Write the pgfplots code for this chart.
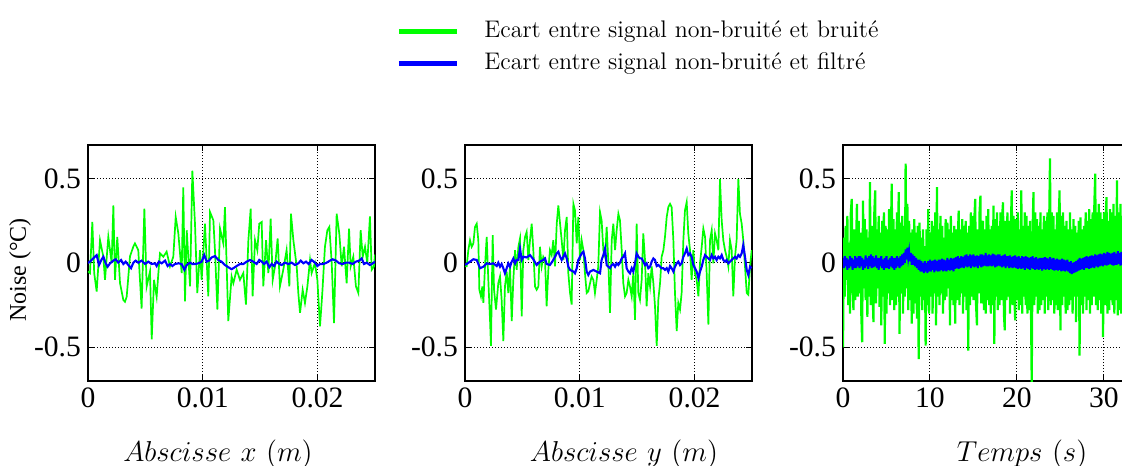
\documentclass[border=0pt]{standalone}
\usepackage{fontspec}
\usepackage{pgfplots}
\pgfplotsset{compat=1.18}
\newfontfamily\tnr{Liberation Serif}
\definecolor{mygreen}{RGB}{0,255,0}
\definecolor{myblue}{RGB}{0,0,255}
\pgfplotsset{
 panel/.style={
  scale only axis, width=143.5pt, height=118pt,
  anchor=south west,
  ymin=-0.7, ymax=0.7,
  ytick={-0.5,0,0.5}, yticklabels={-0.5,0,0.5},
  scaled x ticks=false, scaled y ticks=false,
  grid=major, grid style={black, line width=0.5pt, dash pattern=on 0.6pt off 0.9pt},
  axis line style={line width=1pt, black},
  tick align=inside, major tick length=3pt, tick style={black, line width=0.5pt},
  tick label style={font=\fontsize{14.8}{17}\tnr},
  xlabel style={font=\fontsize{14.5}{17}\selectfont, anchor=base},
 },
 gline/.style={color=mygreen, line width=0.85pt},
 bline/.style={color=myblue, line width=1.05pt},
}
\begin{document}
\begin{tikzpicture}
\useasboundingbox (0,0) rectangle (561pt,232.5pt);
% ---------------- Panel 1
\begin{axis}[panel, at={(44pt,42pt)},
  xmin=0, xmax=0.025, xtick={0,0.01,0.02}, xticklabels={0,0.01,0.02},
  xlabel={$Abscisse\ x\ (m)$},
  xlabel style={at={(axis description cs:0.453,-0.339)}},
  ylabel={Noise (°C)},
  ylabel style={font=\fontsize{12}{14}\tnr, at={(axis description cs:-0.237,0.47)}, anchor=center},
]
\addplot[gline] coordinates {
(0,-0.05)(0.000174,-0.06)(0.000377,0.243)(0.00054,-0.06)(0.000755,-0.169)(0.001045,0.135)
(0.001336,0.037)(0.00148,-0.10)(0.00177,0.155)(0.00206,0.0)(0.00221,0.341)(0.00235,-0.10)
(0.00255,0.155)(0.00279,-0.12)(0.00308,-0.22)(0.00322,-0.23)(0.00337,-0.2)(0.00366,0.04)
(0.00395,0.097)(0.00409,0.116)(0.00438,0.076)(0.00467,-0.27)(0.00491,0.322)(0.00511,-0.139)
(0.0054,-0.05)(0.00555,-0.453)(0.00575,-0.1)(0.00598,-0.2)(0.00613,-0.06)(0.00627,0.057)
(0.00656,0.037)(0.00685,0.067)(0.00714,-0.02)(0.00743,0.037)(0.00764,0.273)(0.00787,0.175)
(0.00816,-0.06)(0.0083,0.449)(0.00845,-0.227)(0.0086,0.194)(0.00889,-0.139)(0.00909,0.547)
(0.00932,0.233)(0.00952,-0.178)(0.00976,0.076)(0.0099,-0.10)(0.01019,0.233)(0.01048,-0.198)
(0.01063,0.302)(0.01092,0.253)(0.01106,0.076)(0.01127,-0.276)(0.0115,0.204)(0.01179,0.116)
(0.01193,0.331)(0.01222,-0.345)(0.01251,-0.08)(0.01266,-0.12)(0.01295,-0.04)(0.01324,-0.10)
(0.01353,-0.06)(0.01376,-0.247)(0.01397,0.135)(0.01417,0.322)(0.01434,-0.198)(0.01455,0.135)
(0.01475,0.076)(0.01492,0.233)(0.01513,0.243)(0.01527,-0.139)(0.01551,0.135)(0.01571,-0.06)
(0.01591,0.263)(0.01609,-0.10)(0.01629,-0.02)(0.01652,0.145)(0.01672,-0.139)(0.01701,-0.04)
(0.0173,0.076)(0.01754,-0.139)(0.01768,0.292)(0.01789,0.135)(0.01818,-0.02)(0.01832,-0.178)
(0.01847,-0.296)(0.0187,-0.159)(0.0189,-0.237)(0.01911,-0.139)(0.01934,0.018)(0.01948,-0.06)
(0.01977,0.0)(0.01998,-0.10)(0.02021,-0.375)(0.02041,-0.178)(0.02064,0.096)(0.02085,0.194)
(0.02102,0.214)(0.02123,0.0)(0.02143,-0.357)(0.02166,0.292)(0.02189,0.175)(0.0221,-0.02)
(0.0223,0.096)(0.02253,-0.12)(0.02274,0.204)(0.02288,-0.02)(0.02311,0.037)(0.02334,-0.139)
(0.02355,-0.178)(0.02375,0.194)(0.02393,0.037)(0.02413,0.096)(0.02433,0.0)(0.02456,0.276)
(0.02471,-0.04)(0.02491,-0.02)(0.025,0.05)
};
\addplot[bline] coordinates {
(0,0.0)(0.000174,0.008)(0.00046,0.027)(0.000755,0.047)(0.00096,-0.012)(0.00119,0.022)
(0.00134,0.037)(0.00154,-0.002)(0.00171,-0.022)(0.00192,-0.002)(0.00221,0.014)(0.00241,0.022)
(0.00264,0.002)(0.00288,0.018)(0.00308,-0.006)(0.00328,0.008)(0.00351,-0.012)(0.00375,-0.031)
(0.00395,0.002)(0.00415,0.014)(0.00438,0.002)(0.00467,0.014)(0.00497,-0.006)(0.00525,0.008)
(0.00555,-0.006)(0.00584,-0.002)(0.00598,-0.018)(0.00618,0.008)(0.00642,-0.002)(0.00671,0.014)
(0.00694,-0.018)(0.00714,-0.006)(0.00735,-0.018)(0.00758,-0.006)(0.00787,-0.002)(0.00816,-0.006)
(0.0084,-0.041)(0.0086,-0.012)(0.00889,0.002)(0.00909,-0.006)(0.00932,-0.006)(0.00961,-0.002)
(0.0099,0.008)(0.01013,0.047)(0.01034,0.008)(0.01054,0.014)(0.01077,0.033)(0.01106,0.041)
(0.01135,0.018)(0.01164,0.008)(0.01193,-0.012)(0.01222,-0.025)(0.01251,-0.037)(0.0128,-0.025)
(0.01295,-0.018)(0.01324,-0.006)(0.01353,-0.006)(0.01382,0.008)(0.01411,0.018)(0.0144,0.008)
(0.01469,-0.006)(0.01492,0.018)(0.01513,0.008)(0.01533,-0.006)(0.01556,0.008)(0.0158,-0.025)
(0.016,-0.006)(0.0162,-0.018)(0.01643,0.008)(0.01667,-0.006)(0.01687,-0.012)(0.01716,0.002)
(0.01745,-0.006)(0.01774,0.002)(0.01803,-0.012)(0.01832,-0.002)(0.01853,0.014)(0.01876,-0.002)
(0.01899,0.008)(0.01922,-0.006)(0.01948,0.018)(0.01977,0.002)(0.01998,-0.018)(0.02021,-0.006)
(0.0205,-0.006)(0.02079,0.002)(0.02108,0.014)(0.02131,0.022)(0.0216,0.014)(0.02189,-0.002)
(0.02218,-0.006)(0.02247,0.002)(0.02276,0.002)(0.02305,-0.006)(0.02334,0.008)(0.02363,0.014)
(0.02384,0.027)(0.02404,-0.006)(0.02427,0.002)(0.02456,-0.012)(0.02491,0.002)(0.025,0.01)
};
\end{axis}
% ---------------- Panel 2
\begin{axis}[panel, at={(232.5pt,42pt)},
  xmin=0, xmax=0.025, xtick={0,0.01,0.02}, xticklabels={0,0.01,0.02},
  xlabel={$Abscisse\ y\ (m)$},
  xlabel style={at={(axis description cs:0.554,-0.339)}},
  legend style={at={(axis description cs:-0.2613,1.550)}, anchor=north west, draw=none, fill=none,
    font=\fontsize{12}{14}\selectfont, row sep=4pt, column sep=12.5pt,
    nodes={inner sep=0pt, text height=9pt, text depth=3pt}, cells={anchor=west}},
  legend image code/.code={\draw[#1, line width=2.5pt] (0pt,0pt) -- (29pt,0pt);},
]
\addplot[gline] coordinates {
(0,-0.02)(0.000145,-0.02)(0.00029,0.076)(0.000436,0.135)(0.00058,0.096)(0.000726,0.116)
(0.00087,0.214)(0.00102,0.233)(0.00116,0.135)(0.00125,-0.159)(0.00139,-0.198)(0.00151,-0.139)
(0.0016,-0.237)(0.00174,-0.02)(0.00189,0.155)(0.00203,-0.10)(0.00218,-0.337)(0.00226,-0.492)
(0.00241,0.165)(0.00253,-0.159)(0.0027,-0.276)(0.0029,-0.12)(0.00305,-0.08)(0.00319,-0.218)
(0.00334,-0.463)(0.00348,-0.139)(0.00363,-0.051)(0.00377,-0.178)(0.00392,-0.02)(0.00407,-0.345)
(0.00421,-0.10)(0.00436,0.076)(0.0045,-0.04)(0.00465,0.096)(0.00479,0.145)(0.00494,-0.316)
(0.00508,0.076)(0.00523,0.155)(0.00537,0.184)(0.00552,0.018)(0.00566,0.135)(0.00581,0.233)
(0.00595,0.076)(0.0061,-0.139)(0.00624,-0.159)(0.00639,-0.139)(0.00653,0.096)(0.00668,-0.02)
(0.00682,0.037)(0.00697,0.018)(0.00711,-0.257)(0.00726,-0.04)(0.0074,0.076)(0.00755,0.047)
(0.00769,0.135)(0.00784,-0.02)(0.00799,0.233)(0.00813,0.341)(0.00828,0.233)(0.00842,0.135)
(0.00857,0.018)(0.00871,0.194)(0.00886,0.273)(0.009,-0.061)(0.00915,-0.178)(0.00929,-0.247)
(0.00944,0.351)(0.00958,0.312)(0.00973,0.116)(0.00987,0.273)(0.01002,0.018)(0.01016,0.135)
(0.01031,0.076)(0.01045,-0.061)(0.0106,-0.178)(0.01074,-0.169)(0.01089,-0.12)(0.01103,-0.08)
(0.01118,-0.10)(0.01132,-0.178)(0.01147,-0.10)(0.01161,-0.02)(0.01176,0.302)(0.0119,0.253)
(0.01205,0.076)(0.0122,0.037)(0.01234,0.214)(0.01249,-0.002)(0.01263,-0.296)(0.01278,0.135)
(0.01292,0.233)(0.01307,0.076)(0.01321,0.194)(0.01336,0.292)(0.0135,0.253)(0.01365,0.076)
(0.01379,-0.12)(0.01394,-0.198)(0.01408,-0.178)(0.01423,-0.10)(0.01437,-0.139)(0.01452,-0.198)
(0.01466,-0.061)(0.01481,-0.337)(0.01495,0.233)(0.0151,-0.178)(0.01524,-0.218)(0.01539,-0.10)
(0.01553,0.175)(0.01568,0.018)(0.01582,-0.257)(0.01597,-0.061)(0.01612,-0.139)(0.01626,-0.02)
(0.01641,-0.12)(0.01655,-0.257)(0.0167,-0.492)(0.01684,-0.218)(0.01699,-0.12)(0.01713,0.037)
(0.01728,0.076)(0.01742,0.155)(0.01757,0.273)(0.01771,0.331)(0.01786,0.351)(0.018,0.331)
(0.01815,0.135)(0.01829,-0.178)(0.01844,-0.404)(0.01858,-0.237)(0.01873,-0.276)(0.01887,-0.178)
(0.01902,0.135)(0.01916,0.312)(0.01931,0.361)(0.01945,0.175)(0.0196,0.076)(0.01974,-0.10)
(0.01989,0.076)(0.02003,-0.061)(0.02018,-0.10)(0.02033,-0.198)(0.02047,-0.002)(0.02062,0.096)
(0.02076,0.204)(0.02091,0.155)(0.02105,-0.061)(0.0212,-0.365)(0.02134,0.135)(0.02149,0.194)
(0.02163,-0.002)(0.02178,0.175)(0.02192,0.135)(0.02207,0.076)(0.02221,0.498)(0.02236,0.253)
(0.0225,0.135)(0.02265,0.076)(0.02279,0.037)(0.02294,-0.02)(0.02308,0.135)(0.02323,0.076)
(0.02337,-0.198)(0.02352,0.037)(0.02366,0.135)(0.02381,0.498)(0.02395,0.292)(0.0241,0.233)
(0.02424,0.135)(0.02439,-0.02)(0.02454,-0.178)(0.02468,-0.188)(0.02483,-0.02)(0.02497,0.076)
};
\addlegendentry{Ecart entre signal non-bruité et bruité}
\addplot[bline] coordinates {
(0,-0.01)(0.000145,-0.006)(0.000436,0.008)(0.000726,0.022)(0.00102,0.018)(0.00131,-0.031)
(0.0016,-0.022)(0.00189,-0.002)(0.00218,-0.006)(0.00247,-0.002)(0.00276,-0.018)(0.0029,0.002)
(0.00305,-0.022)(0.00319,-0.006)(0.00334,-0.031)(0.00348,-0.061)(0.00363,-0.031)(0.00377,-0.002)
(0.00392,-0.022)(0.00407,0.008)(0.00421,0.027)(0.00436,-0.002)(0.0045,0.018)(0.00465,0.018)
(0.00479,0.086)(0.00494,0.018)(0.00508,0.037)(0.00537,0.033)(0.00566,0.047)(0.00595,0.022)
(0.00624,-0.012)(0.00653,0.008)(0.00682,0.018)(0.00697,0.027)(0.00711,-0.006)(0.0074,-0.012)
(0.00769,0.018)(0.00799,0.057)(0.00813,0.067)(0.00828,0.037)(0.00842,0.018)(0.00857,0.037)
(0.00871,0.057)(0.00886,0.027)(0.009,-0.022)(0.00915,-0.041)(0.00944,-0.051)(0.00958,-0.061)
(0.00973,-0.031)(0.00987,0.018)(0.01016,0.057)(0.01031,0.067)(0.01045,0.027)(0.0106,-0.051)
(0.01074,-0.071)(0.01089,-0.051)(0.01118,-0.041)(0.01147,-0.051)(0.01176,-0.061)(0.0119,0.018)
(0.01205,0.047)(0.0122,0.086)(0.01234,-0.012)(0.01249,-0.022)(0.01263,-0.031)(0.01278,-0.012)
(0.01292,-0.006)(0.01307,-0.022)(0.01321,-0.002)(0.01336,-0.012)(0.0135,0.002)(0.01365,0.027)
(0.01379,0.037)(0.01394,0.057)(0.01408,-0.031)(0.01423,-0.051)(0.01437,-0.061)(0.01452,-0.031)
(0.01466,-0.051)(0.01481,-0.002)(0.01495,0.057)(0.0151,0.037)(0.01524,0.027)(0.01539,0.027)
(0.01553,0.008)(0.01568,-0.012)(0.01582,-0.002)(0.01597,-0.031)(0.01612,-0.022)(0.01626,0.008)
(0.01641,0.027)(0.01655,0.018)(0.0167,-0.018)(0.01684,-0.012)(0.01699,-0.022)(0.01713,-0.031)
(0.01728,-0.031)(0.01742,-0.041)(0.01757,-0.031)(0.01771,-0.051)(0.01786,-0.018)(0.018,-0.031)
(0.01815,-0.051)(0.01829,-0.022)(0.01844,-0.002)(0.01858,0.008)(0.01873,-0.012)(0.01887,-0.002)
(0.01902,0.037)(0.01916,0.057)(0.01931,0.086)(0.01945,0.047)(0.0196,0.057)(0.01974,0.037)
(0.01989,-0.012)(0.02003,-0.031)(0.02018,-0.051)(0.02033,-0.09)(0.02047,-0.051)(0.02062,-0.022)
(0.02076,0.018)(0.02091,0.047)(0.02105,0.037)(0.0212,0.027)(0.02134,0.018)(0.02149,0.047)
(0.02163,0.027)(0.02178,0.037)(0.02192,0.018)(0.02207,0.037)(0.02221,0.027)(0.02236,0.047)
(0.0225,0.018)(0.02265,0.008)(0.02279,0.018)(0.02294,-0.002)(0.02308,0.008)(0.02323,0.018)
(0.02337,0.027)(0.02352,0.037)(0.02366,0.027)(0.02381,0.047)(0.02395,0.037)(0.0241,0.057)
(0.02424,0.106)(0.02439,0.037)(0.02454,-0.041)(0.02468,-0.071)(0.02483,-0.022)(0.02497,-0.031)
};
\addlegendentry{Ecart entre signal non-bruité et filtré}
\end{axis}
% ---------------- Panel 3
\begin{axis}[panel, at={(421.5pt,42pt)},
  xmin=0, xmax=33, xtick={0,10,20,30}, xticklabels={0,10,20,30},
  xlabel={$Temps\ (s)$},
  xlabel style={at={(axis description cs:0.624,-0.339)}},
]
\addplot[gline, line width=1.1pt] table[row sep=\\, x expr=\coordindex*0.1, y=y] {
y\\
-0.5\\0.15\\-0.2\\0.22\\-0.1\\0.28\\-0.25\\0.12\\-0.3\\0.3\\
0.38\\-0.15\\-0.28\\0.2\\-0.22\\0.1\\0.35\\-0.2\\0.25\\-0.18\\
0.18\\-0.3\\-0.47\\0.37\\-0.15\\0.26\\-0.22\\0.2\\-0.32\\0.15\\
-0.2\\0.48\\-0.25\\0.22\\-0.18\\-0.35\\0.3\\0.43\\-0.24\\0.2\\
-0.15\\0.28\\-0.26\\0.18\\-0.37\\0.25\\-0.2\\0.3\\-0.48\\0.22\\
-0.3\\0.2\\-0.18\\0.32\\-0.25\\0.15\\0.47\\-0.22\\0.26\\-0.28\\
0.2\\-0.25\\0.3\\-0.2\\0.42\\-0.42\\0.24\\-0.18\\0.28\\-0.3\\
0.22\\-0.2\\0.59\\-0.15\\0.35\\-0.28\\0.25\\-0.22\\0.18\\-0.36\\
0.2\\-0.3\\0.26\\-0.24\\0.18\\-0.33\\0.22\\-0.57\\0.24\\-0.2\\
0.15\\-0.28\\0.2\\-0.22\\0.1\\-0.49\\0.2\\-0.25\\0.32\\-0.3\\
0.18\\-0.2\\0.25\\-0.3\\0.22\\-0.18\\0.3\\-0.37\\0.45\\-0.2\\
0.2\\-0.25\\0.28\\-0.18\\0.22\\-0.3\\0.15\\-0.22\\0.26\\-0.2\\
0.24\\-0.15\\0.2\\-0.37\\0.28\\-0.22\\0.18\\-0.25\\0.22\\-0.36\\
0.2\\-0.22\\0.15\\0.31\\-0.25\\0.2\\-0.18\\0.26\\-0.3\\0.22\\
-0.2\\0.25\\-0.28\\0.18\\-0.52\\0.22\\-0.25\\0.3\\-0.2\\0.28\\
-0.22\\0.26\\0.38\\-0.25\\-0.37\\0.2\\-0.18\\0.3\\0.4\\-0.24\\
0.22\\0.25\\-0.28\\0.2\\-0.3\\0.28\\-0.22\\0.32\\-0.25\\0.2\\
-0.3\\0.22\\-0.25\\0.34\\-0.48\\0.26\\-0.2\\0.3\\-0.28\\0.22\\
-0.25\\0.3\\-0.22\\0.28\\0.36\\-0.3\\-0.4\\0.25\\-0.22\\0.3\\
-0.2\\0.25\\-0.3\\0.22\\0.43\\-0.25\\0.28\\-0.2\\-0.34\\0.26\\
-0.22\\0.3\\-0.28\\0.2\\-0.25\\0.43\\-0.3\\0.22\\-0.2\\0.3\\
-0.25\\0.28\\-0.3\\0.22\\-0.28\\0.25\\-0.2\\-0.72\\0.2\\0.42\\
-0.25\\0.3\\-0.2\\0.26\\-0.3\\0.22\\-0.28\\0.3\\-0.25\\0.2\\
-0.22\\0.28\\-0.3\\0.25\\-0.2\\0.3\\-0.28\\0.22\\0.62\\-0.25\\
0.3\\-0.22\\0.28\\-0.3\\0.2\\-0.25\\0.3\\-0.28\\0.25\\0.43\\
-0.4\\0.28\\-0.25\\0.3\\-0.2\\0.22\\-0.3\\0.25\\-0.28\\0.2\\
-0.25\\0.3\\-0.22\\0.2\\-0.3\\0.26\\-0.2\\0.22\\-0.35\\0.18\\
-0.2\\0.25\\-0.55\\0.27\\-0.25\\0.2\\-0.3\\0.22\\-0.2\\0.3\\
-0.28\\0.25\\-0.22\\0.32\\-0.3\\0.26\\-0.25\\0.3\\-0.2\\0.35\\
0.53\\-0.25\\0.3\\-0.28\\0.35\\-0.22\\0.3\\-0.3\\0.26\\-0.44\\
0.3\\-0.25\\0.28\\0.39\\-0.3\\0.25\\-0.28\\0.32\\-0.22\\0.3\\
-0.25\\0.35\\-0.3\\0.28\\-0.22\\0.49\\-0.31\\0.3\\-0.28\\0.35\\
-0.3\\0.28\\-0.25\\0.3\\-0.22\\0.26\\-0.3\\0.25\\-0.2\\0.3\\-0.2\\
};
\addplot[bline, line width=1pt] table[row sep=\\, x expr=\coordindex*0.1, y=y] {
y\\
0.03\\-0.03\\0.04\\-0.02\\0.03\\-0.04\\0.02\\-0.03\\0.04\\-0.02\\
0.03\\-0.04\\0.02\\-0.03\\0.04\\-0.03\\0.03\\-0.02\\0.04\\-0.03\\
0.04\\-0.02\\0.03\\-0.04\\0.02\\-0.03\\0.045\\-0.02\\0.03\\-0.035\\
0.04\\-0.02\\0.05\\-0.03\\0.04\\-0.025\\0.03\\-0.02\\0.045\\-0.03\\
0.03\\-0.04\\0.03\\-0.02\\0.04\\-0.03\\0.02\\-0.04\\0.03\\-0.03\\
0.04\\-0.03\\0.02\\-0.035\\0.03\\-0.02\\0.04\\-0.03\\0.03\\-0.04\\
0.03\\-0.03\\0.04\\-0.02\\0.03\\-0.03\\0.04\\-0.02\\0.05\\-0.01\\
0.06\\0.0\\0.08\\0.02\\0.09\\0.03\\0.07\\0.01\\0.06\\-0.01\\
0.05\\-0.01\\0.04\\-0.02\\0.03\\-0.03\\0.02\\-0.04\\0.02\\-0.05\\
0.01\\-0.05\\0.0\\-0.06\\0.01\\-0.05\\0.0\\-0.06\\0.01\\-0.05\\
0.02\\-0.05\\0.01\\-0.04\\0.015\\-0.055\\0.02\\-0.045\\0.01\\-0.05\\
0.02\\-0.05\\0.02\\-0.04\\0.025\\-0.05\\0.02\\-0.045\\0.015\\-0.05\\
0.03\\-0.04\\0.02\\-0.045\\0.03\\-0.04\\0.025\\-0.05\\0.03\\-0.035\\
0.035\\-0.03\\0.04\\-0.035\\0.03\\-0.03\\0.04\\-0.025\\0.035\\-0.03\\
0.045\\-0.02\\0.05\\-0.025\\0.04\\-0.02\\0.05\\-0.03\\0.045\\-0.02\\
0.05\\-0.025\\0.04\\-0.02\\0.045\\-0.03\\0.04\\-0.015\\0.05\\-0.025\\
0.05\\-0.02\\0.045\\-0.015\\0.06\\-0.02\\0.045\\-0.02\\0.05\\-0.015\\
0.045\\-0.02\\0.055\\-0.015\\0.05\\-0.025\\0.045\\-0.02\\0.05\\-0.015\\
0.05\\-0.02\\0.04\\-0.025\\0.045\\-0.02\\0.05\\-0.03\\0.04\\-0.02\\
0.04\\-0.03\\0.045\\-0.025\\0.035\\-0.03\\0.04\\-0.025\\0.045\\-0.03\\
0.035\\-0.035\\0.04\\-0.03\\0.03\\-0.035\\0.04\\-0.03\\0.035\\-0.04\\
0.04\\-0.03\\0.035\\-0.035\\0.03\\-0.04\\0.035\\-0.03\\0.04\\-0.035\\
0.03\\-0.04\\0.035\\-0.035\\0.025\\-0.04\\0.03\\-0.035\\0.03\\-0.045\\
0.03\\-0.035\\0.035\\-0.04\\0.03\\-0.035\\0.025\\-0.04\\0.035\\-0.035\\
0.025\\-0.04\\0.03\\-0.045\\0.02\\-0.04\\0.025\\-0.045\\0.02\\-0.04\\
0.02\\-0.05\\0.025\\-0.045\\0.02\\-0.05\\0.015\\-0.045\\0.02\\-0.05\\
0.005\\-0.06\\0.01\\-0.065\\0.0\\-0.06\\0.005\\-0.055\\0.01\\-0.05\\
0.02\\-0.045\\0.03\\-0.04\\0.025\\-0.035\\0.03\\-0.04\\0.035\\-0.03\\
0.04\\-0.03\\0.035\\-0.035\\0.04\\-0.03\\0.045\\-0.025\\0.04\\-0.03\\
0.05\\-0.02\\0.045\\-0.025\\0.05\\-0.02\\0.055\\-0.015\\0.05\\-0.02\\
0.06\\-0.01\\0.055\\-0.015\\0.065\\-0.01\\0.06\\-0.005\\0.055\\-0.01\\
0.06\\-0.015\\0.065\\-0.01\\0.055\\-0.01\\0.07\\-0.005\\0.06\\-0.015\\
0.065\\-0.01\\0.055\\-0.015\\0.06\\-0.005\\0.065\\-0.01\\0.055\\-0.01\\0.06\\
};
\end{axis}
\end{tikzpicture}
\end{document}
